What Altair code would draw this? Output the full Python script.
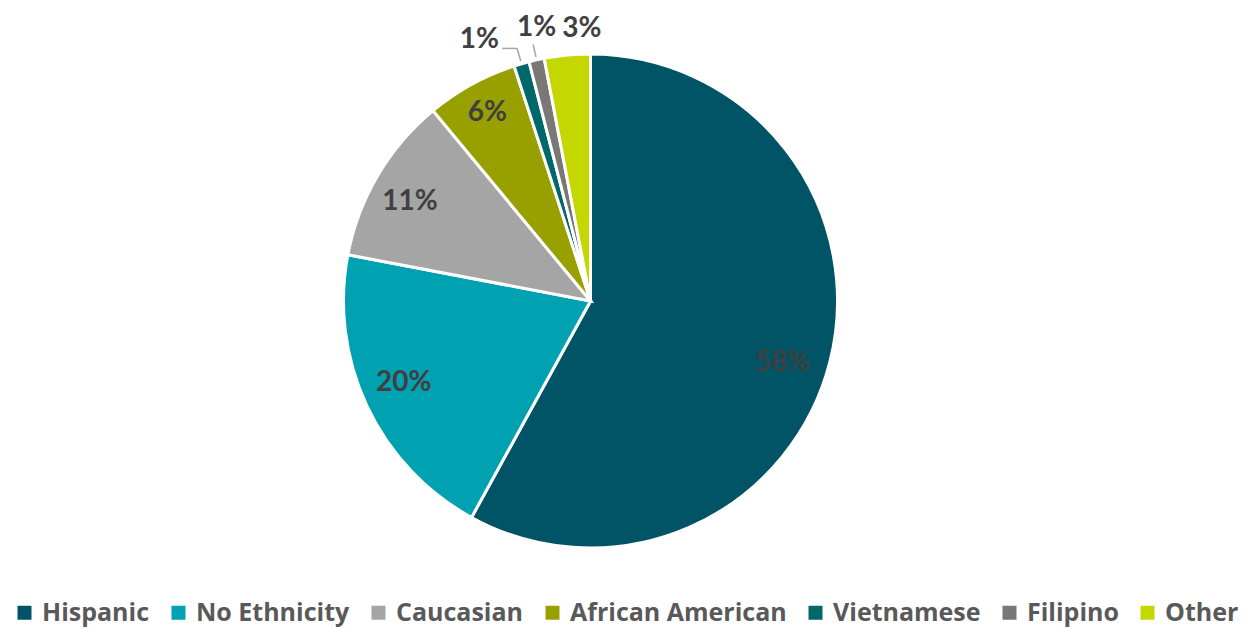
import altair as alt
import pandas as pd
import math

categories = ["Hispanic", "No Ethnicity", "Caucasian", "African American", "Vietnamese", "Filipino", "Other"]
values = [58, 20, 11, 6, 1, 1, 3]
colors = ["#015366", "#00A1B0", "#A5A5A5", "#98A000", "#00686A", "#7A7777", "#C5D700"]

CX, CY, R = 582.5, 293, 247

# label placement tweaks (radius in px, angle nudge in percent units)
label_radius = {"Hispanic": 202, "No Ethnicity": 204, "Caucasian": 206, "African American": 214,
                "Vietnamese": 284, "Filipino": 278, "Other": 272}
label_nudge = {"Hispanic": 1.0, "No Ethnicity": 0.4, "Caucasian": -0.5, "African American": 0,
               "Vietnamese": -1.9, "Filipino": 0.4, "Other": 1.0}

df = pd.DataFrame({"category": categories, "value": values, "idx": list(range(len(categories)))})
df["label"] = df["value"].astype(str) + "%"

def lookup_expr(d):
    parts = [f"datum.category == '{k}' ? {v}" for k, v in d.items()]
    return " : ".join(parts) + " : 0"

base = alt.Chart(df).transform_window(
    cum="sum(value)", sort=[alt.SortField("idx")]
).transform_calculate(
    start="datum.cum - datum.value",
    mid="datum.cum - datum.value / 2",
)

theta_scale = alt.Scale(domain=[0, 100], range=[0, 2 * math.pi])

pie = base.mark_arc(outerRadius=R, stroke="white", strokeWidth=3).encode(
    theta=alt.Theta("start:Q", scale=theta_scale),
    theta2="cum:Q",
    x=alt.value(CX),
    y=alt.value(CY),
    color=alt.Color(
        "category:N",
        scale=alt.Scale(domain=categories, range=colors),
        sort=categories,
        legend=alt.Legend(
            title=None,
            orient="none",
            direction="horizontal",
            legendX=4,
            legendY=592,
            padding=0,
            labelFont="Open Sans",
            labelFontWeight="bold",
            labelFontSize=25,
            labelColor="#595959",
            symbolType="square",
            symbolSize=196,
            symbolStrokeWidth=0,
            labelOffset=5,
            columnPadding=16,
            labelLimit=400,
        ),
    ),
)

labels = base.transform_calculate(
    lr=lookup_expr(label_radius),
    lt="datum.mid + (" + lookup_expr(label_nudge) + ")",
).mark_text(
    font="Lato", fontWeight="bold", fontSize=28, color="#404040", align="center", baseline="middle"
).encode(
    theta=alt.Theta("lt:Q", scale=theta_scale),
    radius=alt.Radius("lr:Q", scale=None),
    x=alt.value(CX),
    y=alt.value(CY),
    text="label:N",
)

leader = base.transform_filter(
    "datum.category == 'Vietnamese' || datum.category == 'Filipino'"
).transform_calculate(
    x1=f"{CX} + 250 * sin(datum.mid / 100 * 2 * PI)",
    y1=f"{CY} - 250 * cos(datum.mid / 100 * 2 * PI)",
    x2=f"{CX} + 263 * sin(datum.mid / 100 * 2 * PI)",
    y2=f"{CY} - 263 * cos(datum.mid / 100 * 2 * PI)",
).mark_rule(color="#A6A6A6", strokeWidth=1.5).encode(
    x=alt.X("x1:Q", scale=None),
    y=alt.Y("y1:Q", scale=None),
    x2="x2:Q",
    y2="y2:Q",
)

leader_h = base.transform_filter(
    "datum.category == 'Vietnamese'"
).transform_calculate(
    x2=f"{CX} + 263 * sin(datum.mid / 100 * 2 * PI)",
    y2=f"{CY} - 263 * cos(datum.mid / 100 * 2 * PI)",
    x3=f"{CX} + 263 * sin(datum.mid / 100 * 2 * PI) - 15",
).mark_rule(color="#A6A6A6", strokeWidth=1.5).encode(
    x=alt.X("x2:Q", scale=None),
    y=alt.Y("y2:Q", scale=None),
    x2="x3:Q",
    y2="y2:Q",
)

chart = alt.layer(pie, labels, leader, leader_h).properties(
    width=1233, height=621, padding=0, background="white",
    autosize=alt.AutoSizeParams(type="none"),
).configure_view(stroke=None, strokeWidth=0)

chart.save("out.html", embed_options={"renderer": "svg", "actions": False})
